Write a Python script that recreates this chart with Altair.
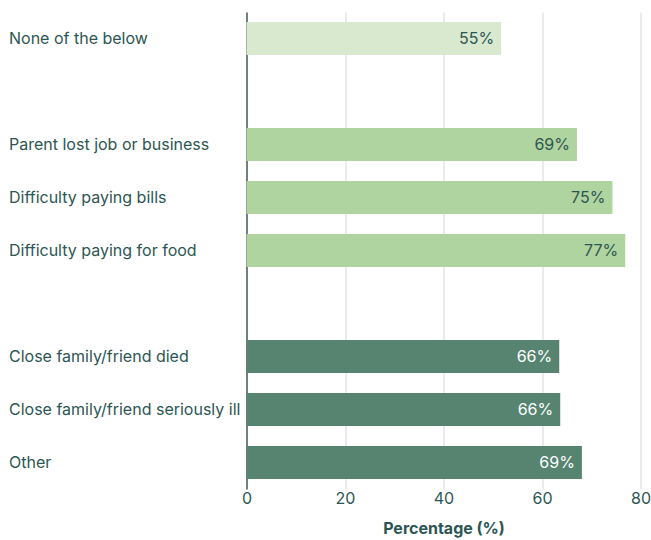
import altair as alt
import pandas as pd

categories = ["None of the below", "Parent lost job or business", "Difficulty paying bills",
              "Difficulty paying for food", "Close family/friend died",
              "Close family/friend seriously ill", "Other"]
values = [51.7, 67.1, 74.3, 76.9, 63.5, 63.7, 68.1]
labels = ["55%", "69%", "75%", "77%", "66%", "66%", "69%"]
groups = ["none", "financial", "financial", "financial", "loss", "loss", "loss"]

domain_order = ["None of the below", " ", "Parent lost job or business", "Difficulty paying bills",
                "Difficulty paying for food", "  ", "Close family/friend died",
                "Close family/friend seriously ill", "Other"]

df = pd.DataFrame({"category": categories, "value": values, "label": labels, "group": groups})

FONT = "Inter"
TEXT = "#2c5653"

y = alt.Y("category:N", scale=alt.Scale(domain=domain_order, paddingInner=0.38, paddingOuter=0.19),
          axis=alt.Axis(title=None, labelAlign="left", labelPadding=238, ticks=False,
                        domain=True, domainColor="#4d5d5b", domainWidth=1.5,
                        labelColor=TEXT, labelFont=FONT, labelFontSize=16, labelLimit=300))
x = alt.X("value:Q", scale=alt.Scale(domain=[0, 80], nice=False),
          axis=alt.Axis(title="Percentage (%)", values=[0, 20, 40, 60, 80], ticks=False,
                        domain=False, grid=True, gridColor="#d9dfdf", gridWidth=1.2,
                        labelFlush=False,
                        labelColor=TEXT, labelFont=FONT, labelFontSize=16, labelPadding=1,
                        titleColor=TEXT, titleFont=FONT, titleFontSize=16, titleFontWeight="bold",
                        titlePadding=14))

color = alt.Color("group:N", scale=alt.Scale(domain=["none", "financial", "loss"],
                                            range=["#d9e9d0", "#b0d4a0", "#568470"]), legend=None)

bars = alt.Chart(df).mark_bar().encode(y=y, x=x, color=color)

text = alt.Chart(df).mark_text(align="right", baseline="middle", dx=-7, font=FONT, fontSize=16).encode(
    y=alt.Y("category:N", scale=alt.Scale(domain=domain_order)),
    x=alt.X("value:Q"),
    text="label:N",
    color=alt.condition(alt.datum.group == "loss", alt.value("#ffffff"), alt.value(TEXT)),
)

chart = alt.layer(bars, text).properties(
    width=394, height=477,
    autosize=alt.AutoSizeParams(type="none"),
    padding={"left": 246.5, "top": 12, "right": 10, "bottom": 51},
).configure_view(stroke=None)

chart.save("out.html", embed_options={"renderer": "svg", "actions": False})
